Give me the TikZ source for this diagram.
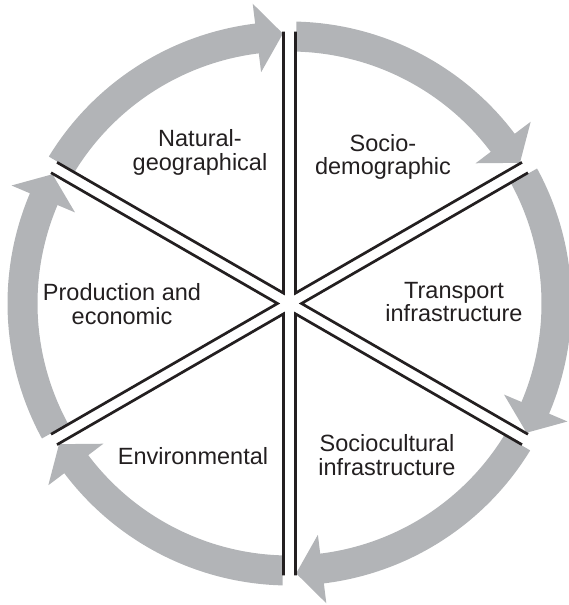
\documentclass[tikz,border=0pt]{standalone}
\usepackage{fontspec}
\setmainfont{Liberation Sans}
\usetikzlibrary{calc}
\definecolor{wheelgray}{RGB}{178,180,183}
\definecolor{wheelline}{RGB}{35,31,32}
\newcommand{\WheelIn}{252pt}
\newcommand{\WheelOut}{282pt}
\newcommand{\WheelLineEnd}{271.9pt}
\newcommand{\WheelGap}{6pt}
% double separator lines of one sector, #1 = bisector angle
\newcommand{\WheelSector}[1]{
  \coordinate (v#1) at (#1:2*\WheelGap);
  \draw[sectorline] ($(#1+30:\WheelLineEnd) + (#1-60:\WheelGap)$) -- (v#1)
    -- ($(#1-30:\WheelLineEnd) + (#1+60:\WheelGap)$);
}
% gray arc arrow, clockwise from boundary #1 to boundary #1-60
\newcommand{\WheelArrow}[1]{
  \fill[wheelgray] (#1-1.5:\WheelIn) -- (#1-1.4:\WheelOut)
    arc[start angle=#1-1.4, end angle=#1-53, radius=\WheelOut]
    -- (#1-53:302pt) -- (#1-58.6:270pt) -- (#1-53:233pt) -- (#1-53:\WheelIn)
    arc[start angle=#1-53, end angle=#1-1.5, radius=\WheelIn] -- cycle;
}
\tikzset{
  sectorline/.style={draw=wheelline, line width=2.7pt, line join=miter},
  label/.style={align=center, inner sep=0pt, text=wheelline,
    font=\fontsize{23.5}{23.5}\selectfont}
}
\begin{document}
\begin{tikzpicture}[x=1pt,y=1pt]
\useasboundingbox (0,0) rectangle (569,605);
\begin{scope}[shift={(289.5,301.5)}]
\foreach \b in {150,90,30,-30,-90,-150}
  {\WheelArrow{\b}}
\foreach \t in {120,60,0,-60,-120,180}
  {\WheelSector{\t}}
\end{scope}

\node[label] (natural) at (200,452.5) {Natural-\\geographical};
\node[label] (socio) at (383,448) {Socio-\\demographic};
\node[label] (transport) at (454,303) {Transport\\infrastructure};
\node[label] (sociocult) at (387,150) {Sociocultural\\infrastructure};
\node[label] (environ) at (193,148.5) {Environmental};
\node[label] (production) at (122,301) {Production and\\economic};
\end{tikzpicture}
\end{document}
